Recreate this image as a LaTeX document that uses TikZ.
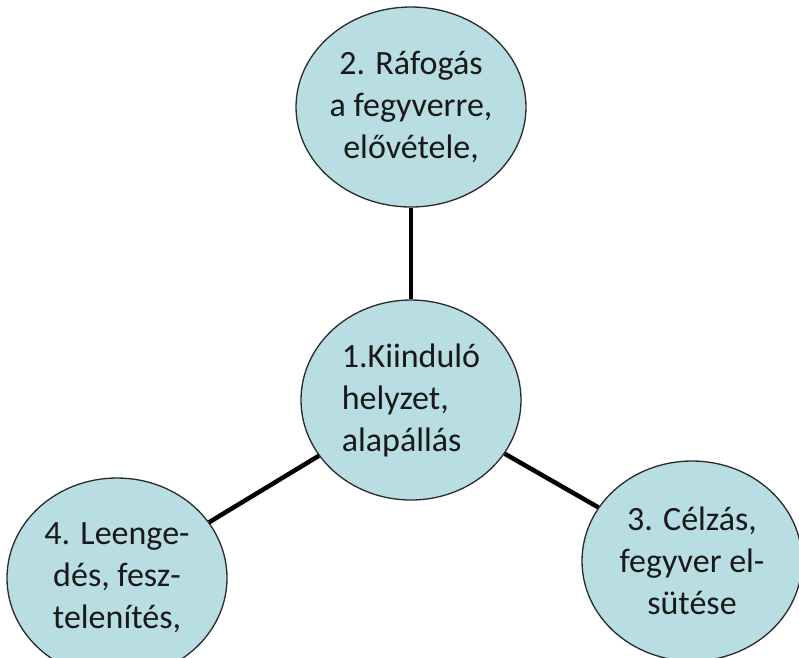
\documentclass[tikz,border=0pt]{standalone}
\usepackage{fontspec}
\setmainfont{Carlito}
\usetikzlibrary{shapes.geometric}
\definecolor{phasefill}{HTML}{B8DDE3}
\definecolor{phaseline}{HTML}{2A2A2A}

\begin{document}
\begin{tikzpicture}[x=1pt,y=-1pt,
    phase/.style={ellipse,draw=phaseline,line width=1.3pt,fill=phasefill,
        minimum width=220pt,minimum height=200pt,inner sep=0pt,
        font=\fontsize{34}{42}\selectfont,text=black!90,align=center},
    link/.style={line width=4.5pt,black}]
    \useasboundingbox (0,0) rectangle (799,657);
    \clip (0,0) rectangle (799,657);

    \node [phase,align=left] (start) at (411,400) {1.Kiinduló\\helyzet,\\alapállás};
    \node [phase] (grip) at (411,107) {2. Ráfogás\\a fegyverre,\\elővétele,};
    \node [phase] (aim) at (692,561) {3. Célzás,\\fegyver el-\\sütése};
    \node [phase] (release) at (117,578) {4. Leenge-\\dés, fesz-\\telenítés,};

    \draw [link] (start) -- (grip);
    \draw [link] (start) -- (aim);
    \draw [link] (start) -- (release);
\end{tikzpicture}
\end{document}
